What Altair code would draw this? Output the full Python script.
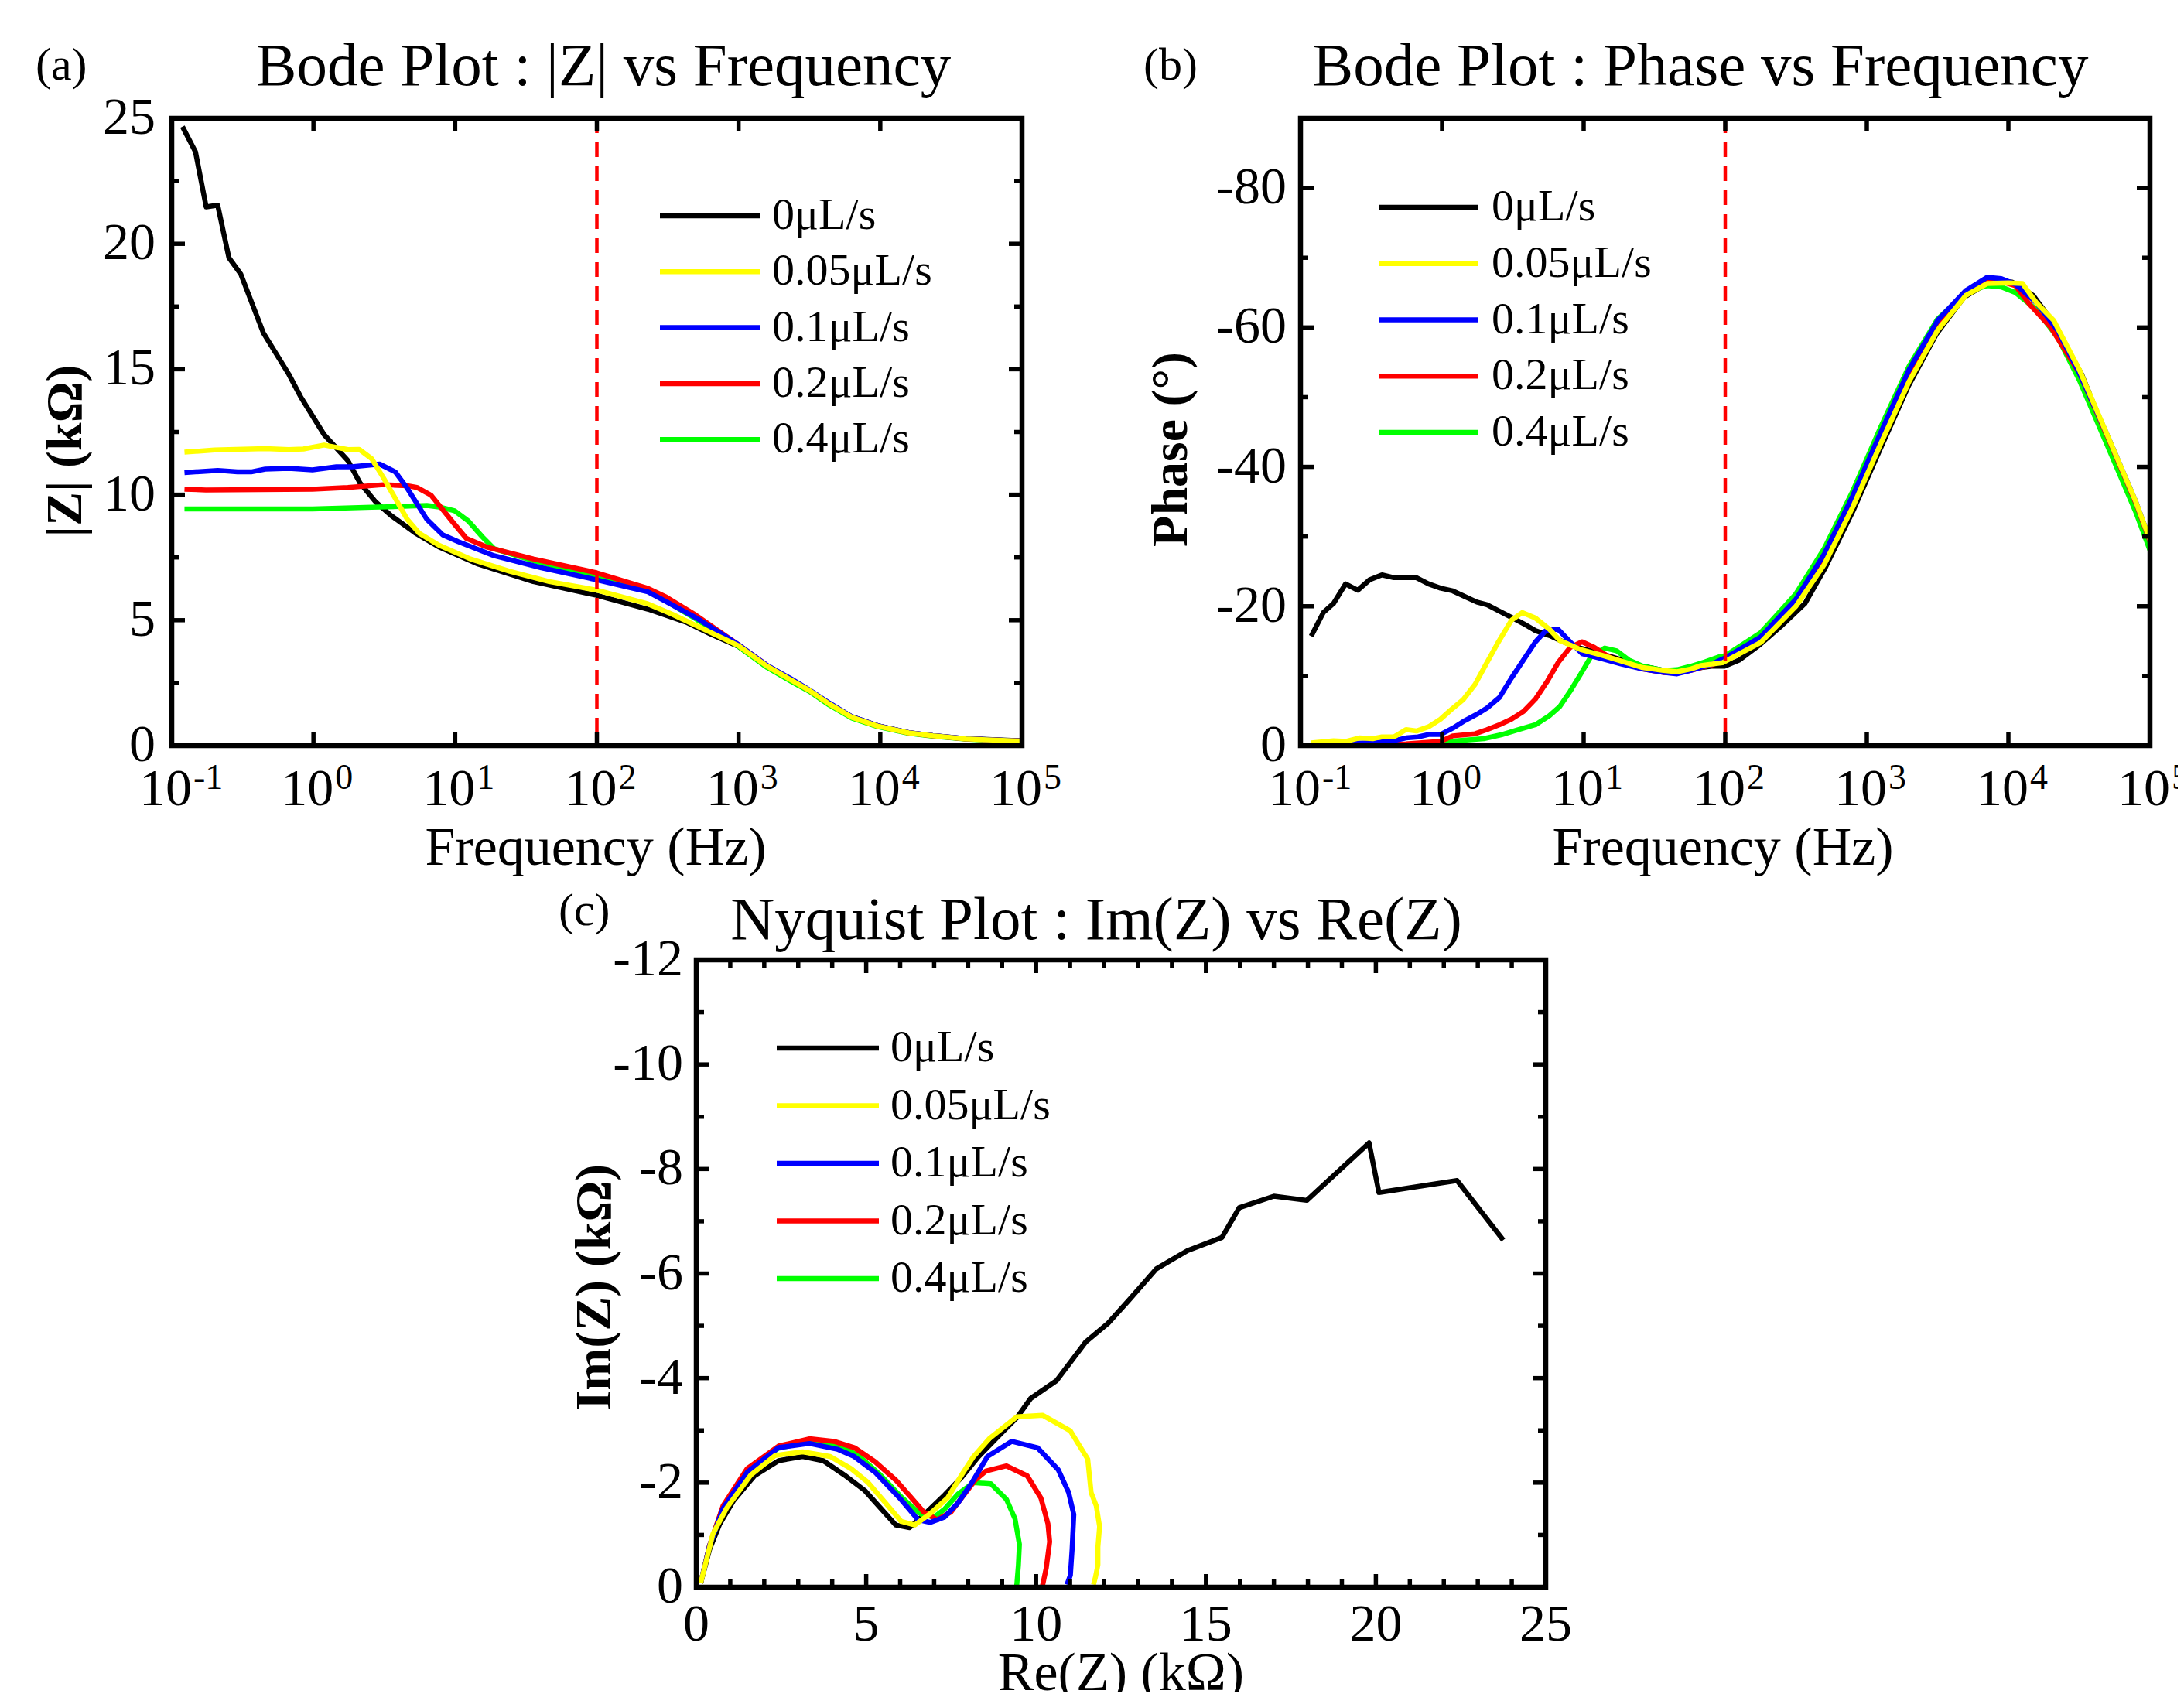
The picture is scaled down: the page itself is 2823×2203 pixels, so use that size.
import altair as alt
import pandas as pd

FONT = "Liberation Serif"

# ---------------- data ----------------
SERIES = ["0μL/s", "0.05μL/s", "0.1μL/s", "0.2μL/s", "0.4μL/s"]
COLORS = ["#000000", "#ffff00", "#0000ff", "#ff0000", "#00ff00"]
DRAW_ORDER = [0, 4, 3, 2, 1]

# (a) |Z| (kOhm) vs frequency (Hz)
A_F0 = [0.119, 0.147, 0.175, 0.211, 0.253, 0.307, 0.443, 0.670, 0.813, 1.02, 1.19, 1.75, 2.13, 2.75, 3.55, 5.21, 7.66, 14.6, 35.6, 99.5, 229, 435, 631, 1000, 1585, 2455, 3162, 4365, 6310, 9550, 15850, 23400, 39810, 91200, 100000]
A_Z0 = [24.67, 23.67, 21.47, 21.54, 19.45, 18.79, 16.45, 14.80, 13.90, 13.00, 12.39, 11.36, 10.47, 9.71, 9.16, 8.48, 7.92, 7.23, 6.54, 5.99, 5.44, 4.90, 4.45, 3.95, 3.15, 2.55, 2.20, 1.68, 1.15, 0.80, 0.52, 0.40, 0.28, 0.20, 0.19]
A_F1 = [0.123, 0.200, 0.457, 0.670, 0.850, 1.19, 1.75, 2.10, 2.58, 3.12, 3.78, 4.59, 5.56, 7.66, 12.8, 24.3, 46.1, 99.5, 229, 339, 631, 1000, 1585, 2455, 3162, 4365, 6310, 9550, 15850, 23400, 39810, 100000]
A_Z1 = [11.70, 11.78, 11.84, 11.80, 11.82, 11.98, 11.80, 11.81, 11.43, 10.67, 9.85, 9.02, 8.47, 7.99, 7.44, 6.95, 6.54, 6.20, 5.65, 5.24, 4.52, 3.98, 3.17, 2.55, 2.20, 1.66, 1.13, 0.78, 0.51, 0.39, 0.27, 0.18]
A_F2 = [0.123, 0.211, 0.291, 0.363, 0.457, 0.670, 0.984, 1.45, 1.87, 2.93, 3.78, 4.59, 6.31, 8.17, 10.5, 18.8, 40.6, 99.5, 229, 309, 500, 1000, 1585, 2455, 3162, 4365, 6310, 9550, 15850, 23400, 39810, 100000]
A_Z2 = [10.88, 10.97, 10.91, 10.91, 11.02, 11.05, 10.99, 11.11, 11.11, 11.22, 10.91, 10.26, 9.02, 8.40, 8.13, 7.57, 7.09, 6.61, 6.13, 5.74, 5.10, 4.02, 3.20, 2.60, 2.22, 1.70, 1.15, 0.80, 0.52, 0.40, 0.28, 0.18]
A_F3 = [0.123, 0.174, 0.984, 1.75, 3.12, 4.59, 5.37, 6.76, 9.91, 12.0, 16.6, 35.6, 99.5, 145, 229, 309, 500, 1000, 1585, 2455, 3162, 4365, 6310, 9550, 15850, 23400, 39810, 100000]
A_Z3 = [10.22, 10.19, 10.22, 10.29, 10.40, 10.36, 10.29, 9.98, 8.82, 8.26, 7.92, 7.44, 6.89, 6.61, 6.27, 5.92, 5.20, 4.02, 3.20, 2.58, 2.20, 1.68, 1.14, 0.79, 0.51, 0.39, 0.27, 0.18]
A_F4 = [0.123, 0.984, 2.58, 6.31, 7.91, 9.91, 12.4, 15.5, 18.8, 35.6, 99.5, 229, 500, 1000, 1585, 2455, 3162, 4365, 6310, 9550, 15850, 23400, 39810, 100000]
A_Z4 = [9.43, 9.43, 9.50, 9.57, 9.50, 9.36, 8.95, 8.33, 7.85, 7.37, 6.75, 6.20, 5.05, 3.95, 3.12, 2.50, 2.16, 1.62, 1.10, 0.76, 0.49, 0.38, 0.26, 0.16]

# (b) phase (deg) vs frequency (Hz)
B_F0 = [0.119, 0.145, 0.171, 0.208, 0.254, 0.308, 0.376, 0.457, 0.659, 0.802, 0.975, 1.19, 1.41, 1.76, 2.08, 2.54, 3.09, 3.76, 4.57, 5.73, 7.16, 9.48, 13.3, 18.6, 26.1, 36.6, 45.7, 57.3, 80.2, 98.9, 126, 176, 247, 366, 511, 800, 1253, 1968, 3090, 4853, 7603, 10640, 14960, 20890, 32890, 51520, 80910, 100000]
B_P0 = [-15.7, -19.1, -20.4, -23.2, -22.3, -23.8, -24.5, -24.1, -24.1, -23.2, -22.6, -22.2, -21.5, -20.6, -20.2, -19.3, -18.4, -17.5, -16.5, -15.8, -14.9, -14.0, -13.2, -12.3, -11.4, -10.8, -10.6, -11.0, -11.4, -11.4, -12.3, -14.5, -17.1, -20.4, -25.6, -33.7, -42.7, -51.6, -59.0, -64.3, -66.7, -66.5, -64.6, -60.6, -53.3, -43.5, -33.7, -29.5]
B_F1 = [0.119, 0.171, 0.208, 0.260, 0.324, 0.376, 0.457, 0.556, 0.659, 0.802, 0.975, 1.15, 1.41, 1.71, 2.02, 2.47, 3.09, 3.69, 4.57, 5.73, 6.78, 9.48, 13.3, 18.6, 26.1, 36.6, 45.7, 57.3, 67.6, 95.5, 178, 316, 501, 794, 1259, 1995, 3162, 5012, 7079, 10000, 12590, 15850, 20890, 31620, 50120, 79430, 100000]
B_P1 = [-0.4, -0.7, -0.6, -1.1, -1.0, -1.25, -1.25, -2.3, -2.1, -2.7, -3.8, -5.1, -6.6, -8.8, -11.5, -14.7, -18.0, -19.1, -18.3, -16.7, -15.1, -13.8, -13.0, -12.1, -11.2, -10.8, -10.6, -11.0, -11.5, -11.9, -14.8, -20.0, -26.0, -34.2, -43.4, -52.3, -59.6, -64.6, -66.3, -66.4, -66.3, -63.5, -61.0, -54.0, -44.5, -35.0, -29.5]
B_F2 = [0.119, 0.208, 0.363, 0.457, 0.556, 0.676, 0.802, 0.975, 1.19, 1.45, 1.76, 2.08, 2.54, 3.09, 3.76, 4.57, 5.41, 6.59, 8.02, 9.75, 13.3, 18.6, 26.1, 36.6, 45.7, 57.3, 80.2, 100, 178, 316, 501, 794, 1259, 1995, 3162, 5012, 7079, 8913, 11220, 15850, 22390, 31620, 50120, 79430, 100000]
B_P2 = [-0.1, -0.25, -0.5, -0.7, -1.1, -1.25, -1.6, -1.6, -2.5, -3.6, -4.5, -5.4, -6.9, -9.7, -12.3, -14.9, -16.5, -16.7, -14.9, -13.2, -12.5, -11.7, -11.0, -10.5, -10.3, -10.8, -11.7, -12.6, -15.6, -21.0, -27.5, -35.8, -45.0, -54.0, -61.0, -65.3, -67.2, -67.0, -66.2, -63.5, -59.5, -53.5, -44.5, -35.0, -29.5]
B_F3 = [0.119, 0.556, 0.975, 1.19, 1.71, 2.08, 2.54, 3.09, 3.76, 4.57, 5.56, 6.59, 8.02, 9.75, 11.9, 14.9, 18.6, 26.1, 36.6, 45.7, 57.3, 80.2, 100, 178, 316, 501, 794, 1259, 1995, 3162, 5012, 7079, 8913, 11220, 14130, 19950, 31620, 50120, 79430, 100000]
B_P3 = [-0.05, -0.25, -0.6, -1.4, -1.7, -2.3, -3.0, -3.8, -4.9, -6.7, -9.3, -11.9, -14.1, -14.9, -14.1, -12.8, -11.9, -11.0, -10.5, -10.4, -10.8, -11.6, -12.4, -15.3, -20.7, -27.2, -35.5, -44.7, -53.7, -60.8, -65.0, -66.7, -66.6, -66.0, -63.3, -60.0, -53.5, -44.3, -34.8, -29.3]
B_F4 = [0.119, 1.00, 1.12, 1.97, 2.61, 3.45, 4.57, 5.73, 6.78, 8.02, 9.48, 11.2, 14.1, 17.1, 20.8, 26.1, 36.6, 45.7, 57.3, 71.6, 92.5, 100, 178, 316, 501, 794, 1259, 1995, 3162, 5012, 7079, 8913, 11220, 15850, 22390, 31620, 50120, 79430, 100000]
B_P4 = [-0.05, -0.25, -0.6, -1.0, -1.55, -2.3, -3.0, -4.3, -5.6, -7.8, -10.2, -12.7, -14.0, -13.6, -12.3, -11.4, -10.8, -10.9, -11.4, -12.0, -12.8, -12.9, -16.2, -21.8, -28.3, -36.5, -45.8, -54.5, -61.2, -65.0, -66.0, -65.8, -65.0, -62.5, -58.5, -52.5, -43.0, -33.5, -28.0]

# (c) Nyquist: Re(Z), Im(Z) in kOhm
C_RE0 = [0.13, 0.39, 0.69, 1.10, 1.71, 2.42, 3.13, 3.74, 4.35, 4.96, 5.47, 5.87, 6.28, 6.79, 7.30, 7.81, 8.31, 8.82, 9.43, 9.84, 10.60, 11.46, 12.12, 12.73, 13.54, 14.46, 15.47, 15.98, 17.00, 17.97, 19.80, 20.09, 22.39, 23.75]
C_IM0 = [-0.08, -0.72, -1.21, -1.66, -2.13, -2.42, -2.50, -2.42, -2.15, -1.85, -1.48, -1.19, -1.14, -1.44, -1.76, -2.10, -2.50, -2.84, -3.24, -3.61, -3.95, -4.69, -5.05, -5.49, -6.09, -6.44, -6.69, -7.26, -7.48, -7.40, -8.50, -7.55, -7.78, -6.64]
C_RE1 = [0.13, 0.49, 0.89, 1.61, 2.32, 3.13, 3.94, 4.55, 5.06, 5.57, 6.03, 6.43, 6.89, 7.40, 7.81, 8.16, 8.62, 9.43, 10.19, 11.01, 11.52, 11.62, 11.77, 11.87, 11.82, 11.82, 11.75, 11.69]
C_IM1 = [-0.08, -1.02, -1.51, -2.15, -2.52, -2.59, -2.50, -2.27, -2.00, -1.61, -1.26, -1.19, -1.41, -1.71, -2.15, -2.50, -2.84, -3.26, -3.29, -2.99, -2.45, -1.81, -1.56, -1.16, -0.77, -0.43, -0.20, -0.05]
C_RE2 = [0.13, 0.39, 0.79, 1.50, 2.42, 3.33, 4.15, 4.65, 5.26, 5.98, 6.53, 6.89, 7.30, 7.70, 8.11, 8.57, 9.28, 10.04, 10.65, 10.96, 11.11, 11.06, 11.01, 10.91]
C_IM2 = [-0.08, -0.79, -1.51, -2.20, -2.67, -2.75, -2.64, -2.50, -2.20, -1.71, -1.29, -1.24, -1.34, -1.61, -2.00, -2.50, -2.79, -2.67, -2.25, -1.81, -1.39, -0.72, -0.23, -0.05]
C_RE3 = [0.13, 0.39, 0.79, 1.50, 2.42, 3.33, 4.05, 4.65, 5.26, 5.87, 6.33, 6.69, 7.09, 7.50, 7.81, 8.21, 8.52, 9.13, 9.74, 10.14, 10.35, 10.40, 10.30, 10.19]
C_IM3 = [-0.08, -0.80, -1.56, -2.27, -2.70, -2.84, -2.79, -2.67, -2.40, -2.05, -1.71, -1.44, -1.29, -1.44, -1.71, -2.05, -2.22, -2.32, -2.13, -1.71, -1.21, -0.87, -0.37, -0.03]
C_RE4 = [0.13, 0.39, 0.79, 1.50, 2.42, 3.33, 4.15, 4.77, 5.38, 5.98, 6.43, 6.64, 7.00, 7.30, 7.70, 8.16, 8.67, 9.13, 9.38, 9.51, 9.48, 9.43]
C_IM4 = [-0.08, -0.79, -1.54, -2.23, -2.66, -2.79, -2.72, -2.52, -2.17, -1.76, -1.49, -1.39, -1.34, -1.49, -1.78, -2.00, -1.98, -1.68, -1.31, -0.82, -0.42, -0.03]

# axis ticks / labels
LOG_EXPS = [-1, 0, 1, 2, 3, 4, 5]
A_YTICKS = [0, 5, 10, 15, 20, 25]
A_YMINOR = [2.5, 7.5, 12.5, 17.5, 22.5]
B_YTICKS = [0, -20, -40, -60, -80]
B_YMINOR = [-10, -30, -50, -70, -90]
C_XTICKS = [0, 5, 10, 15, 20, 25]
C_XMINOR = [1, 2, 3, 4, 6, 7, 8, 9, 11, 12, 13, 14, 16, 17, 18, 19, 21, 22, 23, 24]
C_YTICKS = [0, -2, -4, -6, -8, -10, -12]
C_YMINOR = [-1, -3, -5, -7, -9, -11]
MARKER_FREQ = [100]

# ---------------- layout ----------------
W, H = 2807, 2180
PA = dict(x0=214, x1=1313, y0=145, y1=956)
PB = dict(x0=1673, x1=2771, y0=145, y1=956)
PC = dict(x0=892, x1=1990, y0=1233, y1=2044)

TITLE_FS, XT_FS, YT_FS, TICK_FS, SUP_FS, LEG_FS, LET_FS = 79, 70, 66, 68, 46, 58, 60
MAJ, MIN, TW = 17, 10, 5.5
LW = 6.5
ONE = pd.DataFrame({"k": [0]})


def logx(p):
    return alt.Scale(type="log", domain=[0.1, 100000], range=[p["x0"], p["x1"]], nice=False)


def linx(p, dom):
    return alt.Scale(type="linear", domain=dom, range=[p["x0"], p["x1"]], nice=False, zero=False)


def liny(p, dom):
    return alt.Scale(type="linear", domain=dom, range=[p["y1"], p["y0"]], nice=False, zero=False)


def series_line(xs, ys, xv, yv, color):
    df = pd.DataFrame({"x": xv, "y": yv, "i": list(range(len(xv)))})
    return alt.Chart(df).mark_line(color=color, strokeWidth=LW, strokeJoin="round").encode(
        x=alt.X("x:Q", scale=xs, axis=None),
        y=alt.Y("y:Q", scale=ys, axis=None),
        order=alt.Order("i:Q"),
    )


def frame(p):
    return alt.Chart(ONE).mark_rect(fillOpacity=0, stroke="black", strokeWidth=6.5).encode(
        x=alt.value(p["x0"]), x2=alt.value(p["x1"]), y=alt.value(p["y0"]), y2=alt.value(p["y1"])
    )


def xticks(xs, p, vals, L):
    df = pd.DataFrame({"v": vals})
    b = alt.Chart(df).mark_rule(color="black", strokeWidth=TW).encode(
        x=alt.X("v:Q", scale=xs, axis=None), y=alt.value(p["y1"]), y2=alt.value(p["y1"] - L))
    t = alt.Chart(df).mark_rule(color="black", strokeWidth=TW).encode(
        x=alt.X("v:Q", scale=xs, axis=None), y=alt.value(p["y0"]), y2=alt.value(p["y0"] + L))
    return [b, t]


def yticks(ys, p, vals, L):
    df = pd.DataFrame({"v": vals})
    l = alt.Chart(df).mark_rule(color="black", strokeWidth=TW).encode(
        y=alt.Y("v:Q", scale=ys, axis=None), x=alt.value(p["x0"]), x2=alt.value(p["x0"] + L))
    r = alt.Chart(df).mark_rule(color="black", strokeWidth=TW).encode(
        y=alt.Y("v:Q", scale=ys, axis=None), x=alt.value(p["x1"]), x2=alt.value(p["x1"] - L))
    return [l, r]


def ylabels(ys, p, vals, gap):
    df = pd.DataFrame({"v": vals, "t": [str(v) for v in vals]})
    return alt.Chart(df).mark_text(font=FONT, fontSize=TICK_FS, align="right", baseline="middle", color="black").encode(
        y=alt.Y("v:Q", scale=ys, axis=None), x=alt.value(p["x0"] - gap), text="t:N")


def xlabels(xs, p, vals, off):
    df = pd.DataFrame({"v": vals, "t": [str(v) for v in vals]})
    return alt.Chart(df).mark_text(font=FONT, fontSize=TICK_FS, align="center", baseline="alphabetic", color="black").encode(
        x=alt.X("v:Q", scale=xs, axis=None), y=alt.value(p["y1"] + off), text="t:N")


def logxlabels(xs, p):
    df = pd.DataFrame({"f": [10.0 ** e for e in LOG_EXPS], "e": [str(e) for e in LOG_EXPS]})
    base = alt.Chart(df).mark_text(text="10", font=FONT, fontSize=TICK_FS, align="right", baseline="alphabetic",
                                   dx=26, color="black").encode(
        x=alt.X("f:Q", scale=xs, axis=None), y=alt.value(p["y1"] + 77))
    sup = alt.Chart(df).mark_text(font=FONT, fontSize=SUP_FS, align="left", baseline="alphabetic",
                                  dx=28, color="black").encode(
        x=alt.X("f:Q", scale=xs, axis=None), y=alt.value(p["y1"] + 56), text="e:N")
    return [base, sup]


def marker(xs, p):
    df = pd.DataFrame({"f": MARKER_FREQ})
    return alt.Chart(df).mark_rule(color="#ff0000", strokeWidth=4.5, strokeDash=[19, 12]).encode(
        x=alt.X("f:Q", scale=xs, axis=None), y=alt.value(p["y0"]), y2=alt.value(p["y1"]))


def legend(lx0, lx1, tx, row0, dy):
    df = pd.DataFrame({"s": SERIES, "k": list(range(len(SERIES)))})
    base = alt.Chart(df).transform_calculate(ly=f"{row0} + {dy} * datum.k")
    rules = base.mark_rule(strokeWidth=LW).encode(
        x=alt.value(lx0), x2=alt.value(lx1),
        y=alt.Y("ly:Q", scale=None, axis=None),
        color=alt.Color("s:N", scale=alt.Scale(domain=SERIES, range=COLORS), legend=None))
    texts = base.mark_text(font=FONT, fontSize=LEG_FS, align="left", baseline="middle", color="black").encode(
        x=alt.value(tx), y=alt.Y("ly:Q", scale=None, axis=None), text="s:N")
    return [rules, texts]


def label(txt, x, y, size, align="center", angle=0, weight="normal", baseline="alphabetic"):
    return alt.Chart(ONE).mark_text(text=txt, font=FONT, fontSize=size, fontWeight=weight, align=align,
                                    baseline=baseline, angle=angle, color="black").encode(
        x=alt.value(x), y=alt.value(y))


layers = []

# ---- panel (a)
xa, ya = logx(PA), liny(PA, [0, 25])
A_X = [A_F0, A_F1, A_F2, A_F3, A_F4]
A_Y = [A_Z0, A_Z1, A_Z2, A_Z3, A_Z4]
for k in DRAW_ORDER:
    layers.append(series_line(xa, ya, A_X[k], A_Y[k], COLORS[k]))
layers.append(marker(xa, PA))
layers.append(frame(PA))
layers += xticks(xa, PA, [10.0 ** e for e in LOG_EXPS], MAJ)
layers += yticks(ya, PA, A_YTICKS, MAJ)
layers += yticks(ya, PA, A_YMINOR, MIN)
layers.append(ylabels(ya, PA, A_YTICKS, 21))
layers += logxlabels(xa, PA)
layers += legend(845, 974, 990, 271, 72.3)
layers.append(label("(a)", 38, 95, LET_FS, align="left"))
layers.append(label("Bode Plot : |Z| vs Frequency", 772, 102, TITLE_FS))
layers.append(label("Frequency (Hz)", 762, 1110, XT_FS))
layers.append(label("|Z| (kΩ)", 77, 575, YT_FS, angle=270, weight="bold", baseline="middle"))

# ---- panel (b)
xb, yb = logx(PB), liny(PB, [0, -90])
B_X = [B_F0, B_F1, B_F2, B_F3, B_F4]
B_Y = [B_P0, B_P1, B_P2, B_P3, B_P4]
for k in DRAW_ORDER:
    layers.append(series_line(xb, yb, B_X[k], B_Y[k], COLORS[k]))
layers.append(marker(xb, PB))
layers.append(frame(PB))
layers += xticks(xb, PB, [10.0 ** e for e in LOG_EXPS], MAJ)
layers += yticks(yb, PB, B_YTICKS, MAJ)
layers += yticks(yb, PB, B_YMINOR, MIN)
layers.append(ylabels(yb, PB, B_YTICKS, 18))
layers += logxlabels(xb, PB)
layers += legend(1774, 1902, 1920, 260, 72.75)
layers.append(label("(b)", 1470, 95, LET_FS, align="left"))
layers.append(label("Bode Plot : Phase vs Frequency", 2190, 102, TITLE_FS))
layers.append(label("Frequency (Hz)", 2219, 1110, XT_FS))
layers.append(label("Phase (°)", 1506, 573, YT_FS, angle=270, weight="bold", baseline="middle"))

# ---- panel (c)
xc, yc = linx(PC, [0, 25]), liny(PC, [0, -12])
C_X = [C_RE0, C_RE1, C_RE2, C_RE3, C_RE4]
C_Y = [C_IM0, C_IM1, C_IM2, C_IM3, C_IM4]
for k in DRAW_ORDER:
    layers.append(series_line(xc, yc, C_X[k], C_Y[k], COLORS[k]))
layers.append(frame(PC))
layers += xticks(xc, PC, C_XTICKS, MAJ)
layers += xticks(xc, PC, C_XMINOR, MIN)
layers += yticks(yc, PC, C_YTICKS, MAJ)
layers += yticks(yc, PC, C_YMINOR, MIN)
layers.append(ylabels(yc, PC, C_YTICKS, 17))
layers.append(xlabels(xc, PC, C_XTICKS, 69))
layers += legend(996, 1128, 1143, 1347, 74.5)
layers.append(label("(c)", 714, 1188, LET_FS, align="left"))
layers.append(label("Nyquist Plot : Im(Z) vs Re(Z)", 1409, 1206, TITLE_FS))
layers.append(label("Re(Z) (kΩ)", 1441, 2177, XT_FS))
layers.append(label("Im(Z) (kΩ)", 761, 1656, YT_FS, angle=270, weight="bold", baseline="middle"))

chart = (
    alt.layer(*layers)
    .resolve_scale(x="independent", y="independent")
    .properties(width=W, height=H, padding=0, background="white",
                autosize=alt.AutoSizeParams(type="none"))
    .configure_view(stroke="transparent")
)

chart.save("out.html", embed_options={"renderer": "svg", "actions": False})
